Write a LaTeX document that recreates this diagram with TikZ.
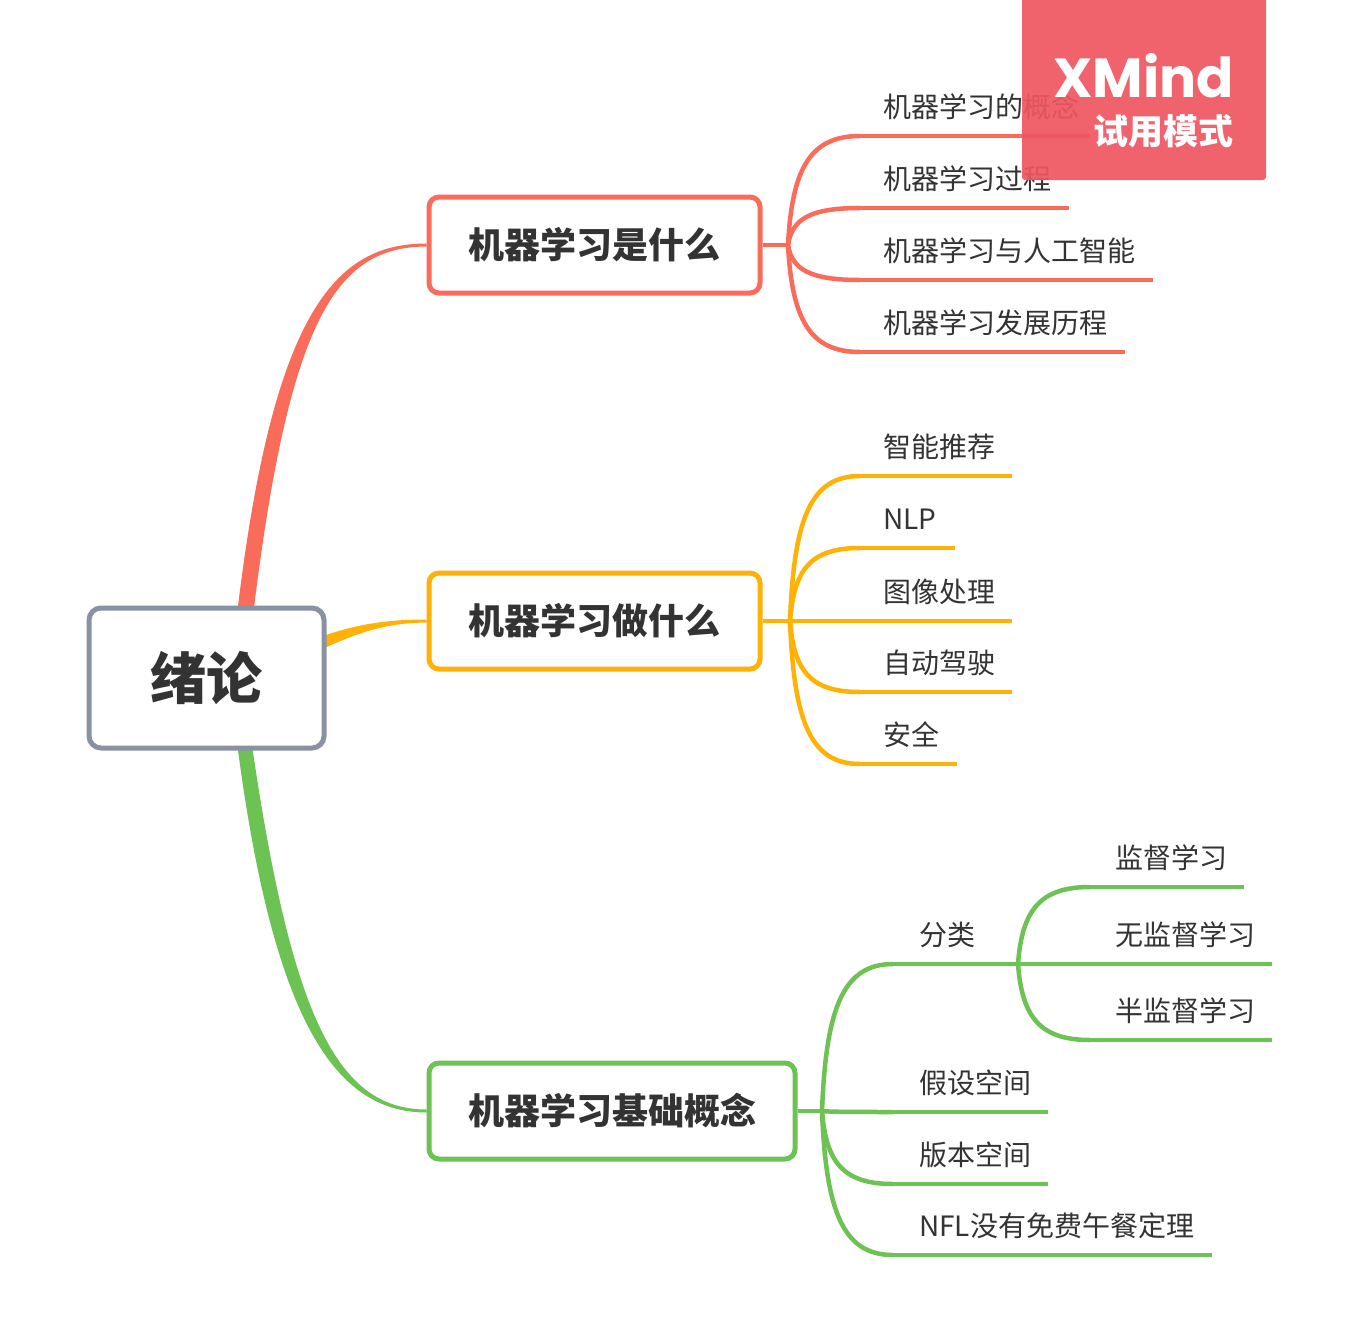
\documentclass[tikz,border=0pt]{standalone}
\usepackage{fontspec}
\usetikzlibrary{calc,backgrounds}
\newfontfamily\cjk{Noto Sans CJK SC}
\newfontfamily\wmfont{Poppins}
\definecolor{cred}{RGB}{250,108,90}
\definecolor{corange}{RGB}{255,178,5}
\definecolor{cgreen}{RGB}{108,194,82}
\definecolor{cgray}{RGB}{136,146,164}
\definecolor{ctext}{RGB}{51,51,51}
\definecolor{cwm}{RGB}{239,86,97}
\newcommand\hubcurve[3]{%
  \draw[#3] (#1) .. controls ($(#1)!0.7!(#1|-#2)+(4,0)$) and ($(#2)+(-50,0)$) .. (#2);}
\begin{document}
\begin{tikzpicture}[x=1pt,y=-1pt,
  central/.style={draw=cgray, line width=5pt, rounded corners=12pt, fill=white,
    minimum width=235pt, minimum height=140pt, inner sep=0pt, text=ctext,
    font=\cjk\bfseries\fontsize{56}{60}\selectfont},
  topic/.style={line width=5pt, rounded corners=10pt, fill=white,
    minimum height=96pt, inner sep=0pt, text=ctext,
    font=\cjk\bfseries\fontsize{36}{40}\selectfont},
  sub/.style={anchor=west, inner sep=0pt, text=ctext,
    font=\cjk\fontsize{28}{32}\selectfont},
  br/.style={line width=4.5pt, line cap=butt},
  wmtext/.style={anchor=east, inner sep=0pt, text=white},
]
\useasboundingbox (0,0) rectangle (1358,1344);

% nodes
\node[central] (c) at (206.5,678) {绪论};
\node[topic, draw=cred, minimum width=331pt] (b1) at (594.5,245) {机器学习是什么};
\node[topic, draw=corange, minimum width=331pt] (b2) at (594.5,621) {机器学习做什么};
\node[topic, draw=cgreen, minimum width=366pt] (b3) at (612,1111) {机器学习基础概念};

% coordinates
\coordinate (H1) at (788,245);
\coordinate (s11) at (860,136); \coordinate (e11) at (1090,136);
\coordinate (s12) at (860,208); \coordinate (e12) at (1069,208);
\coordinate (s13) at (860,280); \coordinate (e13) at (1153,280);
\coordinate (s14) at (860,352); \coordinate (e14) at (1125,352);
\coordinate (H2) at (790,621);
\coordinate (s21) at (860,476); \coordinate (e21) at (1012,476);
\coordinate (s22) at (860,548); \coordinate (e22) at (955,548);
\coordinate (s23) at (860,621); \coordinate (e23) at (1012,621);
\coordinate (s24) at (860,692); \coordinate (e24) at (1012,692);
\coordinate (s25) at (860,764); \coordinate (e25) at (957,764);
\coordinate (H3) at (822,1111);
\coordinate (s31) at (893,964); \coordinate (SH) at (1018,964);
\coordinate (e32) at (1272,964);
\coordinate (s33) at (1090,887); \coordinate (e33) at (1244,887);
\coordinate (s34) at (1090,1040); \coordinate (e34) at (1272,1040);
\coordinate (s35) at (893,1112); \coordinate (e35) at (1048,1112);
\coordinate (s36) at (893,1184); \coordinate (e36) at (1048,1184);
\coordinate (s37) at (893,1255); \coordinate (e37) at (1212,1255);

\begin{scope}[on background layer]
\fill[white] (0,0) rectangle (1358,1344);
% main tapered branches
\fill[cred] (233,650) .. controls (268,320) and (330,243.5) .. ($(b1.west)+(0,-1.5)$)
  -- ($(b1.west)+(0,1.5)$) .. controls (334,247) and (286,320) .. (249,650) -- cycle;
\fill[corange] (300,645) .. controls (345,626) and (380,619.5) .. ($(b2.west)+(0,-1.5)$)
  -- ($(b2.west)+(0,1.5)$) .. controls (385,623) and (355,632) .. (300,660) -- cycle;
\fill[cgreen] (233,710) .. controls (268,1010) and (330,1112.5) .. ($(b3.west)+(0,1.5)$)
  -- ($(b3.west)+(0,-1.5)$) .. controls (334,1109.5) and (288,1010) .. (247,710) -- cycle;
% branch 1
\draw[br, cred] (b1.east) -- (H1);
\hubcurve{H1}{s11}{br, cred} \draw[br, cred] (s11) -- (e11);
\hubcurve{H1}{s12}{br, cred} \draw[br, cred] (s12) -- (e12);
\hubcurve{H1}{s13}{br, cred} \draw[br, cred] (s13) -- (e13);
\hubcurve{H1}{s14}{br, cred} \draw[br, cred] (s14) -- (e14);
% branch 2
\draw[br, corange] (b2.east) -- (H2);
\hubcurve{H2}{s21}{br, corange} \draw[br, corange] (s21) -- (e21);
\hubcurve{H2}{s22}{br, corange} \draw[br, corange] (s22) -- (e22);
\hubcurve{H2}{s23}{br, corange} \draw[br, corange] (s23) -- (e23);
\hubcurve{H2}{s24}{br, corange} \draw[br, corange] (s24) -- (e24);
\hubcurve{H2}{s25}{br, corange} \draw[br, corange] (s25) -- (e25);
% branch 3
\draw[br, cgreen] (b3.east) -- (H3);
\hubcurve{H3}{s31}{br, cgreen} \draw[br, cgreen] (s31) -- (SH) -- (e32);
\hubcurve{SH}{s33}{br, cgreen} \draw[br, cgreen] (s33) -- (e33);
\hubcurve{SH}{s34}{br, cgreen} \draw[br, cgreen] (s34) -- (e34);
\hubcurve{H3}{s35}{br, cgreen} \draw[br, cgreen] (s35) -- (e35);
\hubcurve{H3}{s36}{br, cgreen} \draw[br, cgreen] (s36) -- (e36);
\hubcurve{H3}{s37}{br, cgreen} \draw[br, cgreen] (s37) -- (e37);
\end{scope}

% labels
\node[sub] (t11) at (883,107) {机器学习的概念};
\node[sub] (t12) at (883,179) {机器学习过程};
\node[sub] (t13) at (883,251) {机器学习与人工智能};
\node[sub] (t14) at (883,323) {机器学习发展历程};
\node[sub] (t21) at (883,447) {智能推荐};
\node[sub] (t22) at (883,519) {NLP};
\node[sub] (t23) at (883,592) {图像处理};
\node[sub] (t24) at (883,663) {自动驾驶};
\node[sub] (t25) at (883,735) {安全};
\node[sub] (t31) at (919,935) {分类};
\node[sub] (t32) at (1115,935) {无监督学习};
\node[sub] (t33) at (1115,858) {监督学习};
\node[sub] (t34) at (1115,1011) {半监督学习};
\node[sub] (t35) at (919,1083) {假设空间};
\node[sub] (t36) at (919,1155) {版本空间};
\node[sub] (t37) at (919,1226) {NFL没有免费午餐定理};

% watermark
\fill[cwm, fill opacity=0.92, rounded corners=3pt] (1022,-10) rectangle (1266,180);
\node[wmtext, font=\wmfont\bfseries\fontsize{55}{60}\selectfont] (wm1) at (1234,76) {XMind};
\node[wmtext, font=\cjk\bfseries\fontsize{35}{40}\selectfont] (wm2) at (1234,131) {试用模式};
\end{tikzpicture}
\end{document}
